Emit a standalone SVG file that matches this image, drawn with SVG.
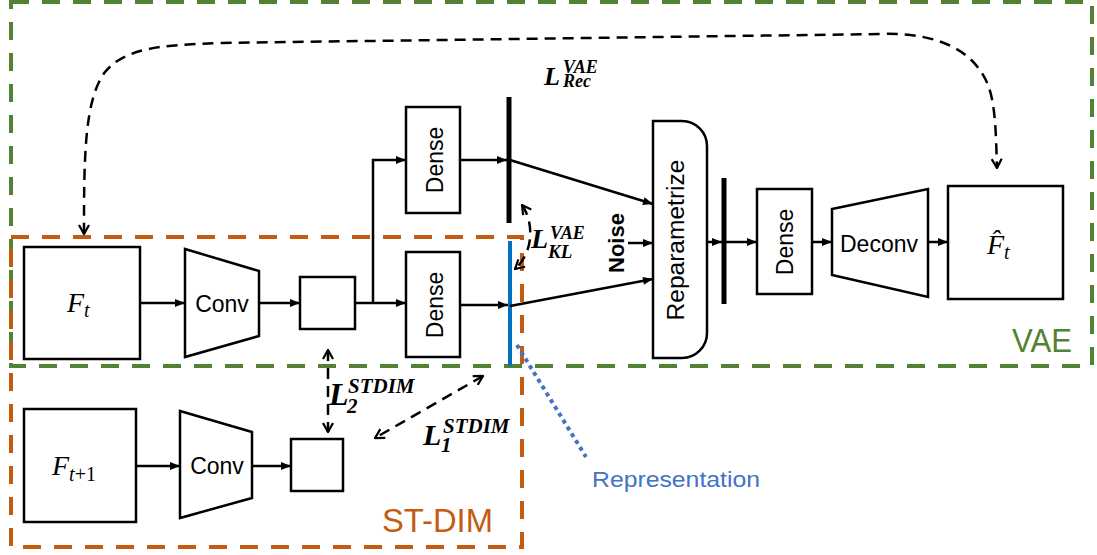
<svg xmlns="http://www.w3.org/2000/svg" width="1097" height="555" viewBox="0 0 1097 555">
<defs>
<style>
.box{fill:#fff;stroke:#000;stroke-width:2.5}
.ln{fill:none;stroke:#000;stroke-width:2.5}
.dl{fill:none;stroke:#000;stroke-width:2.5;stroke-dasharray:11 7}
.lbl{font-family:"Liberation Sans",Arial,sans-serif;font-size:23px;fill:#000}
.math{font-family:"Liberation Serif","Times New Roman",serif;font-style:italic;fill:#000}
.loss{font-family:"Liberation Serif","Times New Roman",serif;font-style:italic;font-weight:bold;fill:#000}
</style>
<marker id="ah" viewBox="0 0 10 10" refX="10" refY="5" markerWidth="11" markerHeight="10" markerUnits="userSpaceOnUse" orient="auto"><path d="M0,1 L10,5 L0,9 Z" fill="#000"/></marker>
<marker id="oh" viewBox="0 0 12 12" refX="11" refY="6" markerWidth="12" markerHeight="12" markerUnits="userSpaceOnUse" orient="auto-start-reverse"><path d="M2,1 L11,6 L2,11" fill="none" stroke="#000" stroke-width="2.2" stroke-dasharray="none"/></marker>
</defs>
<rect width="1097" height="555" fill="#fff"/>

<g id="group-vae">
<rect x="11" y="2" width="1081" height="364" fill="none" stroke="#548235" stroke-width="4" stroke-dasharray="18 13"/>
<text x="1072" y="352" text-anchor="end" font-family="Liberation Sans,Arial,sans-serif" font-size="33" fill="#548235" textLength="60" lengthAdjust="spacingAndGlyphs">VAE</text>
</g>
<g id="group-stdim">
<rect x="11" y="237" width="511" height="310" fill="none" stroke="#C55A11" stroke-width="4" stroke-dasharray="18 13"/>
<text x="493" y="532" text-anchor="end" font-family="Liberation Sans,Arial,sans-serif" font-size="33" fill="#C55A11" textLength="111" lengthAdjust="spacingAndGlyphs">ST-DIM</text>
</g>

<g id="node-ft">
<rect class="box" x="24" y="247" width="116" height="112"/>
<text class="math" x="67" y="312" font-size="28">F<tspan font-size="20" dy="5">t</tspan></text>
</g>
<g id="node-conv1">
<path class="box" d="M185,249 L259,271 L259,336 L185,357 Z"/>
<text class="lbl" x="222" y="312" text-anchor="middle">Conv</text>
</g>
<g id="node-feat1">
<rect class="box" x="300" y="277" width="55" height="52"/>
</g>
<g id="node-dense-top">
<rect class="box" x="406" y="107" width="54" height="106"/>
<text class="lbl" transform="translate(443,160) rotate(-90)" text-anchor="middle">Dense</text>
</g>
<g id="node-dense-bottom">
<rect class="box" x="406" y="252" width="54" height="105"/>
<text class="lbl" transform="translate(443,305) rotate(-90)" text-anchor="middle">Dense</text>
</g>
<g id="node-bar-top">
<line x1="509" y1="97" x2="509" y2="223" stroke="#000" stroke-width="5"/>
</g>
<g id="node-representation-bar">
<line x1="510" y1="241" x2="510" y2="366" stroke="#0070C0" stroke-width="4"/>
</g>
<g id="node-noise">
<text transform="translate(624,243) rotate(-90)" text-anchor="middle" font-family="Liberation Sans,Arial,sans-serif" font-weight="bold" font-size="22">Noise</text>
</g>
<g id="node-reparametrize">
<path class="box" d="M653,121 H682 A25,25 0 0 1 707,146 V333 A25,25 0 0 1 682,358 H653 Z"/>
<text class="lbl" transform="translate(684,240) rotate(-90)" text-anchor="middle" textLength="161" lengthAdjust="spacingAndGlyphs">Reparametrize</text>
</g>
<g id="node-bar-z">
<line x1="724" y1="178" x2="724" y2="304" stroke="#000" stroke-width="5"/>
</g>
<g id="node-dense-dec">
<rect class="box" x="757" y="189" width="55" height="105"/>
<text class="lbl" transform="translate(793,242) rotate(-90)" text-anchor="middle">Dense</text>
</g>
<g id="node-deconv">
<path class="box" d="M832,209 L928,189 L928,297 L832,275 Z"/>
<text class="lbl" x="879" y="252" text-anchor="middle">Deconv</text>
</g>
<g id="node-fhat">
<rect class="box" x="948" y="186" width="115" height="113"/>
<text class="math" x="987" y="254" font-size="28">F&#x302;<tspan font-size="20" dy="5">t</tspan></text>
</g>
<g id="node-ft1">
<rect class="box" x="24" y="409" width="112" height="113"/>
<text class="math" x="52" y="475" font-size="28">F<tspan font-size="20" dy="6">t</tspan><tspan font-size="20" font-style="normal">+1</tspan></text>
</g>
<g id="node-conv2">
<path class="box" d="M180,411 L252,432 L252,498 L180,518 Z"/>
<text class="lbl" x="217" y="474" text-anchor="middle">Conv</text>
</g>
<g id="node-feat2">
<rect class="box" x="291" y="439" width="52" height="52"/>
</g>
<g id="node-representation-label">
<text x="592" y="487" font-family="Liberation Sans,Arial,sans-serif" font-size="22" fill="#4472C4" textLength="168" lengthAdjust="spacingAndGlyphs">Representation</text>
</g>

<g id="connectors">
<path class="ln" d="M140,303 H185" marker-end="url(#ah)"/>
<path class="ln" d="M259,303 H300" marker-end="url(#ah)"/>
<path class="ln" d="M355,303 H406" marker-end="url(#ah)"/>
<path class="ln" d="M373,303 V160 H406" marker-end="url(#ah)"/>
<path class="ln" d="M460,160 H507" marker-end="url(#ah)"/>
<path class="ln" d="M460,305 H508" marker-end="url(#ah)"/>
<path class="ln" d="M510,160 L653,204" marker-end="url(#ah)"/>
<path class="ln" d="M510,306 L653,279" marker-end="url(#ah)"/>
<path class="ln" d="M628,243 H653" marker-end="url(#ah)"/>
<path class="ln" d="M707,242 H722" marker-end="url(#ah)"/>
<path class="ln" d="M724,242 H757" marker-end="url(#ah)"/>
<path class="ln" d="M812,242 H832" marker-end="url(#ah)"/>
<path class="ln" d="M928,242 H948" marker-end="url(#ah)"/>
<path class="ln" d="M136,466 H180" marker-end="url(#ah)"/>
<path class="ln" d="M252,466 H291" marker-end="url(#ah)"/>
<path class="dl" d="M84,234 C84,160 84,100 105,72 C125,48 160,45 220,43 L880,34 C940,32 975,52 988,85 C996,105 996,140 997,168" marker-start="url(#oh)" marker-end="url(#oh)"/>
<path class="dl" d="M328,350 V432" marker-start="url(#oh)" marker-end="url(#oh)"/>
<path class="dl" d="M483,376 L375,438" marker-start="url(#oh)" marker-end="url(#oh)"/>
<path class="dl" d="M522,205 C534,222 534,252 515,269" marker-start="url(#oh)" marker-end="url(#oh)"/>
<path d="M517,345 L586,457" fill="none" stroke="#4472C4" stroke-width="4" stroke-dasharray="4 4"/>
</g>

<g id="labels-loss">
<text class="loss" x="544" y="85" font-size="26">L<tspan x="563" y="73" font-size="18">VAE</tspan><tspan x="563" y="87" font-size="18">Rec</tspan></text>
<text class="loss" x="531" y="248" font-size="28">L<tspan x="550" y="239" font-size="18">VAE</tspan><tspan x="548" y="258" font-size="19">KL</tspan></text>
<text class="loss" x="329" y="405" font-size="32">L<tspan x="348" y="393" font-size="21">STDIM</tspan><tspan x="347" y="413" font-size="21">2</tspan></text>
<text class="loss" x="423" y="445" font-size="30">L<tspan x="443" y="433" font-size="21">STDIM</tspan><tspan x="441" y="452" font-size="21">1</tspan></text>
</g>
</svg>
